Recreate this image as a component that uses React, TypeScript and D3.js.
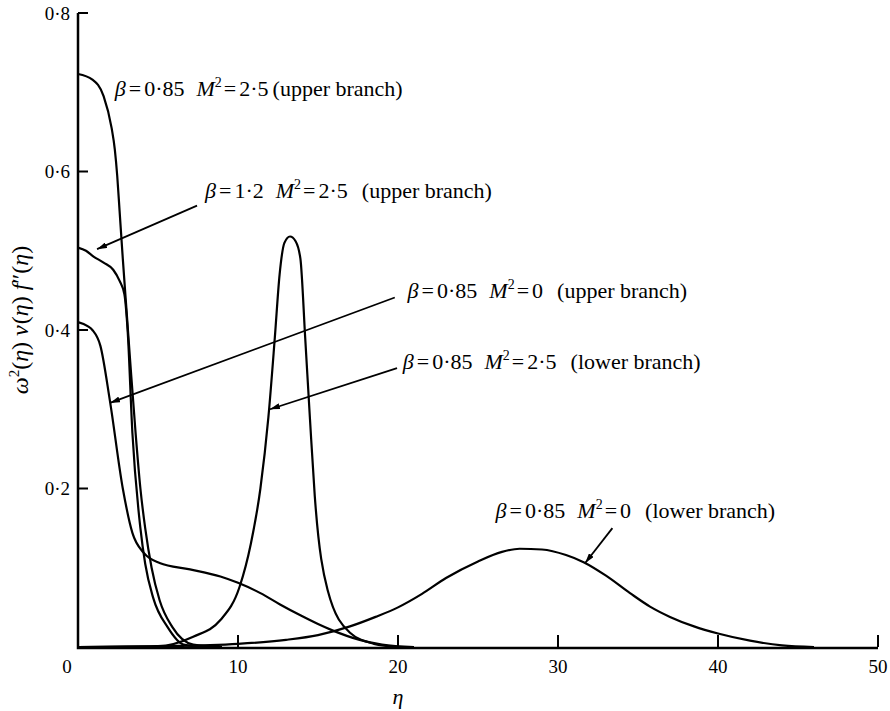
import React, { useEffect } from 'react';
import { line, curveMonotoneX, scaleLinear } from 'd3';

const width = 890;
const height = 711;

// eta / value pairs
const etaA = [0, 0.9, 1.6, 2.1, 2.3, 2.45, 2.6, 2.8, 3.05, 3.3, 3.6, 3.9, 4.2, 4.6, 5.1, 5.9, 7.2, 9];
const valA = [0.723, 0.716, 0.695, 0.655, 0.628, 0.595, 0.55, 0.49, 0.42, 0.35, 0.27, 0.2, 0.15, 0.1, 0.059, 0.025, 0.003, 0];

const etaB = [0, 0.5, 0.95, 1.6, 2.2, 2.6, 2.9, 3.1, 3.4, 3.9, 4.2, 4.7, 5.6, 6.6, 8];
const valB = [0.504, 0.5, 0.493, 0.485, 0.476, 0.462, 0.445, 0.4, 0.27, 0.15, 0.105, 0.062, 0.025, 0.003, 0];

const etaC = [0, 0.6, 0.9, 1.4, 2.0, 2.8, 3.4, 4.1, 5.1, 7, 8.9, 10, 11.4, 12.6, 13.9, 15, 15.9, 17.6, 19, 21];
const valC = [0.41, 0.405, 0.4, 0.38, 0.31, 0.2, 0.144, 0.119, 0.106, 0.098, 0.089, 0.081, 0.068, 0.054, 0.04, 0.029, 0.021, 0.009, 0.003, 0];

const etaD = [0, 5, 7.2, 8.9, 10.1, 10.8, 11.4, 11.9, 12.3, 12.6, 12.9, 13.25, 13.6, 13.9, 14.2, 14.5, 14.8, 15.6, 17, 18.5, 20];
const valD = [0, 0.001, 0.013, 0.034, 0.076, 0.13, 0.2, 0.29, 0.39, 0.47, 0.51, 0.518, 0.512, 0.49, 0.39, 0.287, 0.19, 0.072, 0.018, 0.004, 0];

const etaE = [0, 5, 10, 13, 15, 17, 18.6, 20, 21.5, 23, 25, 26.5, 27.6, 29, 30.5, 31.6, 33, 34.5, 35.75, 37, 38.5, 40, 42, 44, 46];
const valE = [0, 0.001, 0.004, 0.009, 0.015, 0.026, 0.038, 0.05, 0.067, 0.087, 0.108, 0.12, 0.124, 0.123, 0.116, 0.107, 0.09, 0.068, 0.051, 0.038, 0.026, 0.017, 0.008, 0.002, 0];

const xTicks = [0, 10, 20, 30, 40, 50];
const xTickLabels = ['0', '10', '20', '30', '40', '50'];
const yTicks = [0.2, 0.4, 0.6, 0.8];
const yTickLabels = ['0·2', '0·4', '0·6', '0·8'];

// annotations: beta, M2, branch, text anchor (eta, value), arrow from / to
const labelBeta = ['0·85', '1·2', '0·85', '0·85', '0·85'];
const labelM2 = ['2·5', '2·5', '0', '2·5', '0'];
const labelBranch = ['(upper branch)', '(upper branch)', '(upper branch)', '(lower branch)', '(lower branch)'];
const labelPos = [[2.3, 0.695], [7.94, 0.567], [20.6, 0.441], [20.3, 0.351], [26.1, 0.163]];
const arrowFrom = [null, [7.44, 0.557], [19.8, 0.441], [19.94, 0.352], [33.4, 0.15]];
const arrowTo = [null, [1.19, 0.502], [2.0, 0.308], [12.0, 0.3], [31.7, 0.106]];

const x = scaleLinear().domain([0, 50]).range([78, 878]);
const y = scaleLinear().domain([0, 0.8]).range([647, 13]);

const serif = '"Liberation Serif", "DejaVu Serif", serif';

function App() {
  useEffect(() => {
    document.body.style.margin = '0';
  }, []);

  const lineGen = line<[number, number]>()
    .x(d => x(d[0]))
    .y(d => y(d[1]))
    .curve(curveMonotoneX);

  const series = [
    [etaA, valA],
    [etaB, valB],
    [etaC, valC],
    [etaD, valD],
    [etaE, valE],
  ].map(([e, v]) => e.map((t, i) => [t, v[i]] as [number, number]));

  return (
    <svg width={width} height={height} style={{ display: 'block', background: '#fff' }} fontFamily={serif}>
      <defs>
        <marker id="arr" viewBox="0 0 10 6" refX={10} refY={3} markerWidth={10} markerHeight={6} markerUnits="userSpaceOnUse" orient="auto">
          <path d="M0,0 L10,3 L0,6 Z" fill="#000" />
        </marker>
      </defs>

      {/* axes */}
      <path d={`M${x(0)},${y(0.8)} V${y(0) + 1} H${x(50)}`} fill="none" stroke="#000" strokeWidth={2.5} />
      {yTicks.map(t => (
        <line key={t} x1={x(0)} x2={x(0) + 10} y1={y(t)} y2={y(t)} stroke="#000" strokeWidth={2} />
      ))}
      {xTicks.slice(1).map(t => (
        <line key={t} x1={x(t)} x2={x(t)} y1={y(0)} y2={y(0) - 12} stroke="#000" strokeWidth={2} />
      ))}
      {yTicks.map((t, i) => (
        <text key={t} x={x(0) - 8} y={y(t)} dy="0.35em" textAnchor="end" fontSize={19}>{yTickLabels[i]}</text>
      ))}
      {xTicks.map((t, i) => (
        <text key={t} x={t === 0 ? x(t) - 11 : x(t)} y={y(0) + 19} dy="0.35em" textAnchor="middle" fontSize={19}>{xTickLabels[i]}</text>
      ))}
      <text x={x(20)} y={y(0) + 57} textAnchor="middle" fontSize={22} fontStyle="italic">η</text>
      <text transform={`translate(28, 320) rotate(-90)`} textAnchor="middle" fontSize={24}>
        <tspan fontStyle="italic">ω</tspan><tspan fontSize={15} dy={-9}>2</tspan><tspan dy={9}>(</tspan><tspan fontStyle="italic">η</tspan>)<tspan fontStyle="italic" dx={6}>ν</tspan><tspan dx={1}>(</tspan><tspan fontStyle="italic">η</tspan>)<tspan fontStyle="italic" dx={6}>f</tspan>″(<tspan fontStyle="italic">η</tspan>)
      </text>

      {/* curves */}
      {series.map((s, i) => (
        <path key={i} d={lineGen(s) ?? ''} fill="none" stroke="#000" strokeWidth={2.2} strokeLinejoin="round" />
      ))}

      {/* annotations */}
      {labelPos.map((p, i) => {
        const f = arrowFrom[i];
        const t = arrowTo[i];
        return (
          <g key={i}>
            {f && t && (
              <line x1={x(f[0])} y1={y(f[1])} x2={x(t[0])} y2={y(t[1])} stroke="#000" strokeWidth={1.8} markerEnd="url(#arr)" />
            )}
            <text x={x(p[0])} y={y(p[1])} fontSize={22}>
              <tspan fontStyle="italic">β</tspan><tspan dx={3}>=</tspan><tspan dx={3}>{labelBeta[i]}</tspan>
              <tspan fontStyle="italic" dx={12}>M</tspan><tspan fontSize={14} dy={-9}>2</tspan><tspan dy={9} dx={2}>=</tspan><tspan dx={3}>{labelM2[i]}</tspan>
              <tspan dx={i === 0 ? 4 : 14}>{labelBranch[i]}</tspan>
            </text>
          </g>
        );
      })}
    </svg>
  );
}

export default App;
